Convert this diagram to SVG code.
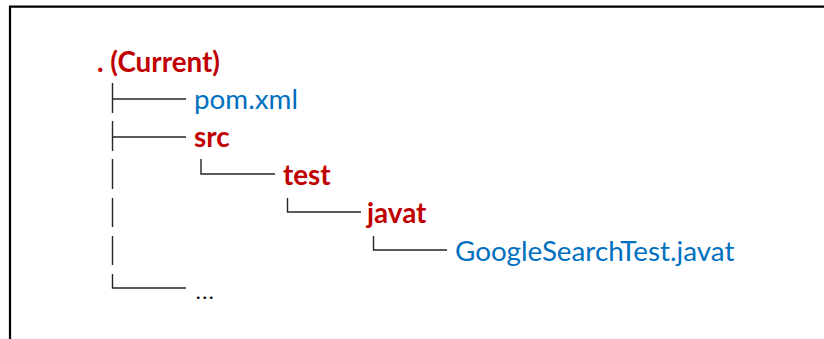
<svg xmlns="http://www.w3.org/2000/svg" width="824" height="339" viewBox="0 0 824 339">
<style>
.t{font-family:Lato,"Liberation Sans",sans-serif;font-size:27.8px}
.d{fill:#C00000;font-weight:bold}
.f{fill:#0070C0}
.k{fill:#000}
.ln{stroke:#262626;stroke-width:1.4;fill:none}
.fr{stroke:#000;stroke-width:2.2;fill:none}
</style>
<rect width="824" height="339" fill="#fff"/>
<path class="fr" d="M10,339 V6.7 H824"/>
<g id="connectors">
<path class="ln" d="M112.5,83 V113 M112.5,99 H186"/>
<path class="ln" d="M112.5,121 V151 M112.5,137 H186"/>
<path class="ln" d="M112.5,159 V189 M112.5,198 V227 M112.5,236 V265"/>
<path class="ln" d="M112.5,274 V288 H186"/>
<path class="ln" d="M201,159 V174 H275"/>
<path class="ln" d="M287.5,198 V212 H361"/>
<path class="ln" d="M373.5,236 V250 H447"/>
</g>
<g id="root"><text class="t d" x="97" y="72">. (Current)</text></g>
<g id="pom"><text class="t f" x="194" y="109">pom.xml</text></g>
<g id="src"><text class="t d" x="194" y="147">src</text></g>
<g id="test"><text class="t d" x="283" y="185">test</text></g>
<g id="javat"><text class="t d" x="367" y="223">javat</text></g>
<g id="gst"><text class="t f" x="455" y="261">GoogleSearchTest.javat</text></g>
<g id="more"><text class="t k" x="195" y="299" font-weight="300">...</text></g>
</svg>
